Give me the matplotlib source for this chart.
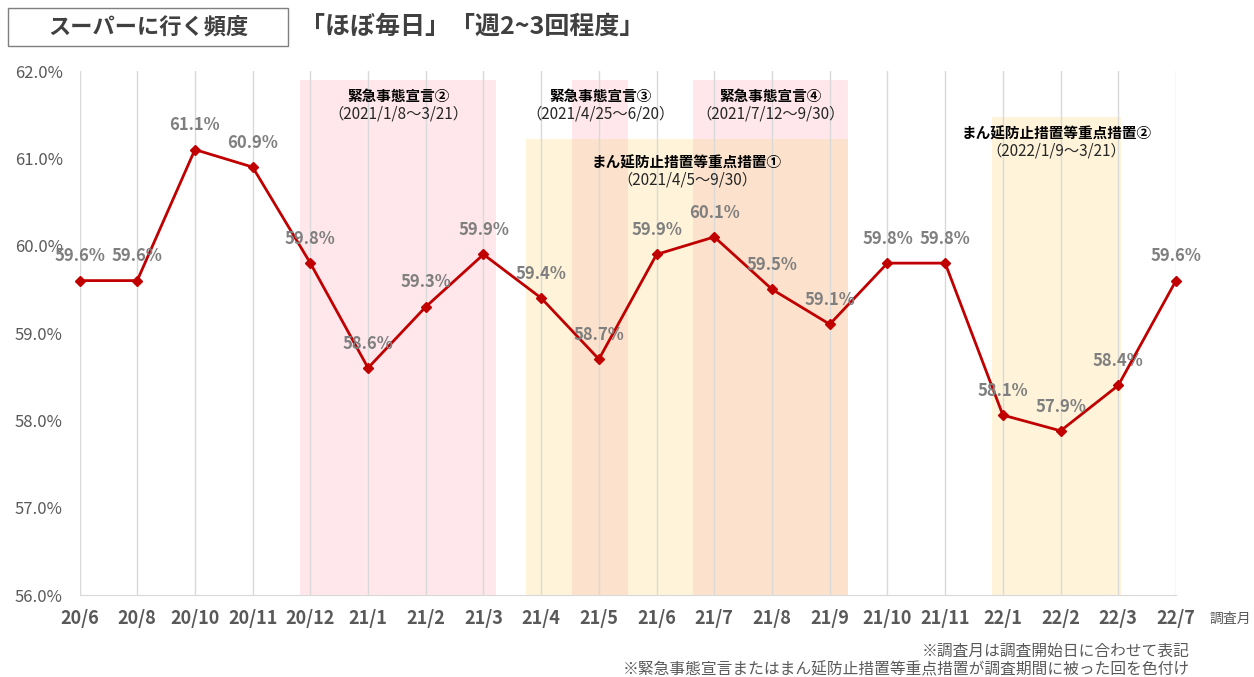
import matplotlib
matplotlib.use("Agg")
import matplotlib.pyplot as plt
from matplotlib.patches import Rectangle
from matplotlib.ticker import FuncFormatter

plt.rcParams['font.family'] = ['Noto Sans CJK JP', 'DejaVu Sans']

# survey months and share of "almost every day" + "2-3 times a week"
months = ['20/6', '20/8', '20/10', '20/11', '20/12', '21/1', '21/2', '21/3', '21/4', '21/5',
          '21/6', '21/7', '21/8', '21/9', '21/10', '21/11', '22/1', '22/2', '22/3', '22/7']
rates = [59.6, 59.6, 61.1, 60.9, 59.8, 58.6, 59.3, 59.9, 59.4, 58.7,
         59.9, 60.1, 59.5, 59.1, 59.8, 59.8, 58.06, 57.88, 58.4, 59.6]

# state of emergency periods (in survey-index units on the x axis)
emerg_names = ['緊急事態宣言②', '緊急事態宣言③', '緊急事態宣言④']
emerg_dates = ['（2021/1/8～3/21）', '（2021/4/25～6/20）', '（2021/7/12～9/30）']
emerg_start = [3.82, 8.54, 10.63]
emerg_end = [7.22, 9.51, 13.31]
emerg_top = [61.9, 61.9, 61.9]

# priority measures periods
manen_names = ['まん延防止措置等重点措置①', 'まん延防止措置等重点措置②']
manen_dates = ['（2021/4/5～9/30）', '（2022/1/9～3/21）']
manen_start = [7.74, 15.82]
manen_end = [13.31, 18.04]
manen_top = [61.22, 61.47]

PINK = '#FFE7EB'
YELLOW = '#FFF4DA'
OVERLAP = '#FCE2CC'
GRAY = '#595959'

fig = plt.figure(figsize=(12.54, 6.77), dpi=100)
ax = fig.add_axes([79.5 / 1254, 1 - 595 / 677, (1176 - 79.5) / 1254, (595 - 71) / 677])

ymin, ymax = 56, 62
x = list(range(len(months)))

# shaded periods
for s, e, t in zip(manen_start, manen_end, manen_top):
    ax.bar(s, t - ymin, bottom=ymin, width=e - s, align='edge', color=YELLOW, lw=0, zorder=0.6)
for s, e, t in zip(emerg_start, emerg_end, emerg_top):
    ax.bar(s, t - ymin, bottom=ymin, width=e - s, align='edge', color=PINK, lw=0, zorder=0.7)
    for ms, me, mt in zip(manen_start, manen_end, manen_top):
        lo, hi = max(s, ms), min(e, me)
        if hi > lo:
            ax.bar(lo, min(t, mt) - ymin, bottom=ymin, width=hi - lo, align='edge',
                   color=OVERLAP, lw=0, zorder=0.8)

# period labels
def period_label(xc, top, name, date, drop):
    ax.annotate(name, (xc, top), xytext=(0, -drop), textcoords='offset points',
                ha='center', va='center', fontsize=10.5, fontweight='bold', color='black')
    ax.annotate(date, (xc, top), xytext=(0, -drop - 12.5), textcoords='offset points',
                ha='center', va='center', fontsize=11, color='#262626')

for s, e, t, n, d in zip(emerg_start, emerg_end, emerg_top, emerg_names, emerg_dates):
    period_label((s + e) / 2, t, n, d, 12)
manen_drops = [17, 12]
for s, e, t, n, d, dr in zip(manen_start, manen_end, manen_top, manen_names, manen_dates, manen_drops):
    period_label((s + e) / 2, t, n, d, dr)

# line
ax.plot(x, rates, color='#C00000', lw=2, marker='D', ms=5, zorder=3, clip_on=False)
for i, v in enumerate(rates):
    ax.annotate(f'{v:.1f}%', (i, v), xytext=(0, 17.5), textcoords='offset points',
                ha='center', va='center', fontsize=12, fontweight='bold', color='#7F7F7F',
                zorder=4)

ax.set_xlim(0, len(months) - 1)
ax.set_ylim(ymin, ymax)
ax.set_xticks(x)
ax.set_xticklabels(months, fontsize=13, fontweight='bold', color=GRAY)
ax.set_yticks(range(ymin, ymax + 1))
ax.yaxis.set_major_formatter(FuncFormatter(lambda v, p: f'{v:.1f}%'))
ax.tick_params(axis='y', length=0, pad=12, labelsize=12, labelcolor=GRAY)
ax.tick_params(axis='x', length=0, pad=10)
ax.grid(axis='x', color='#D9D9D9', lw=1)
for sp in ['left', 'right', 'top']:
    ax.spines[sp].set_visible(False)
ax.spines['bottom'].set_color('#D9D9D9')

# header
fig.add_artist(Rectangle((8 / 1254, 1 - 46 / 677), 280 / 1254, 38 / 677,
                         transform=fig.transFigure, fill=False, ec='#7F7F7F', lw=1))
fig.text(148 / 1254, 1 - 27 / 677, 'スーパーに行く頻度', ha='center', va='center',
         fontsize=16, fontweight='bold', color='#404040')
fig.text(300 / 1254, 1 - 27 / 677, '「ほぼ毎日」「週2~3回程度」', ha='left', va='center',
         fontsize=18, fontweight='bold', color='#404040')

fig.text(1230 / 1254, 1 - 619 / 677, '調査月', ha='center', va='center', fontsize=10, color=GRAY)
fig.text(1190 / 1254, 1 - 651 / 677, '※調査月は調査開始日に合わせて表記', ha='right', va='center',
         fontsize=11.3, color=GRAY)
fig.text(1190 / 1254, 1 - 670 / 677, '※緊急事態宣言またはまん延防止措置等重点措置が調査期間に被った回を色付け',
         ha='right', va='center', fontsize=11.3, color=GRAY)

fig.savefig('out.png', dpi=100)
